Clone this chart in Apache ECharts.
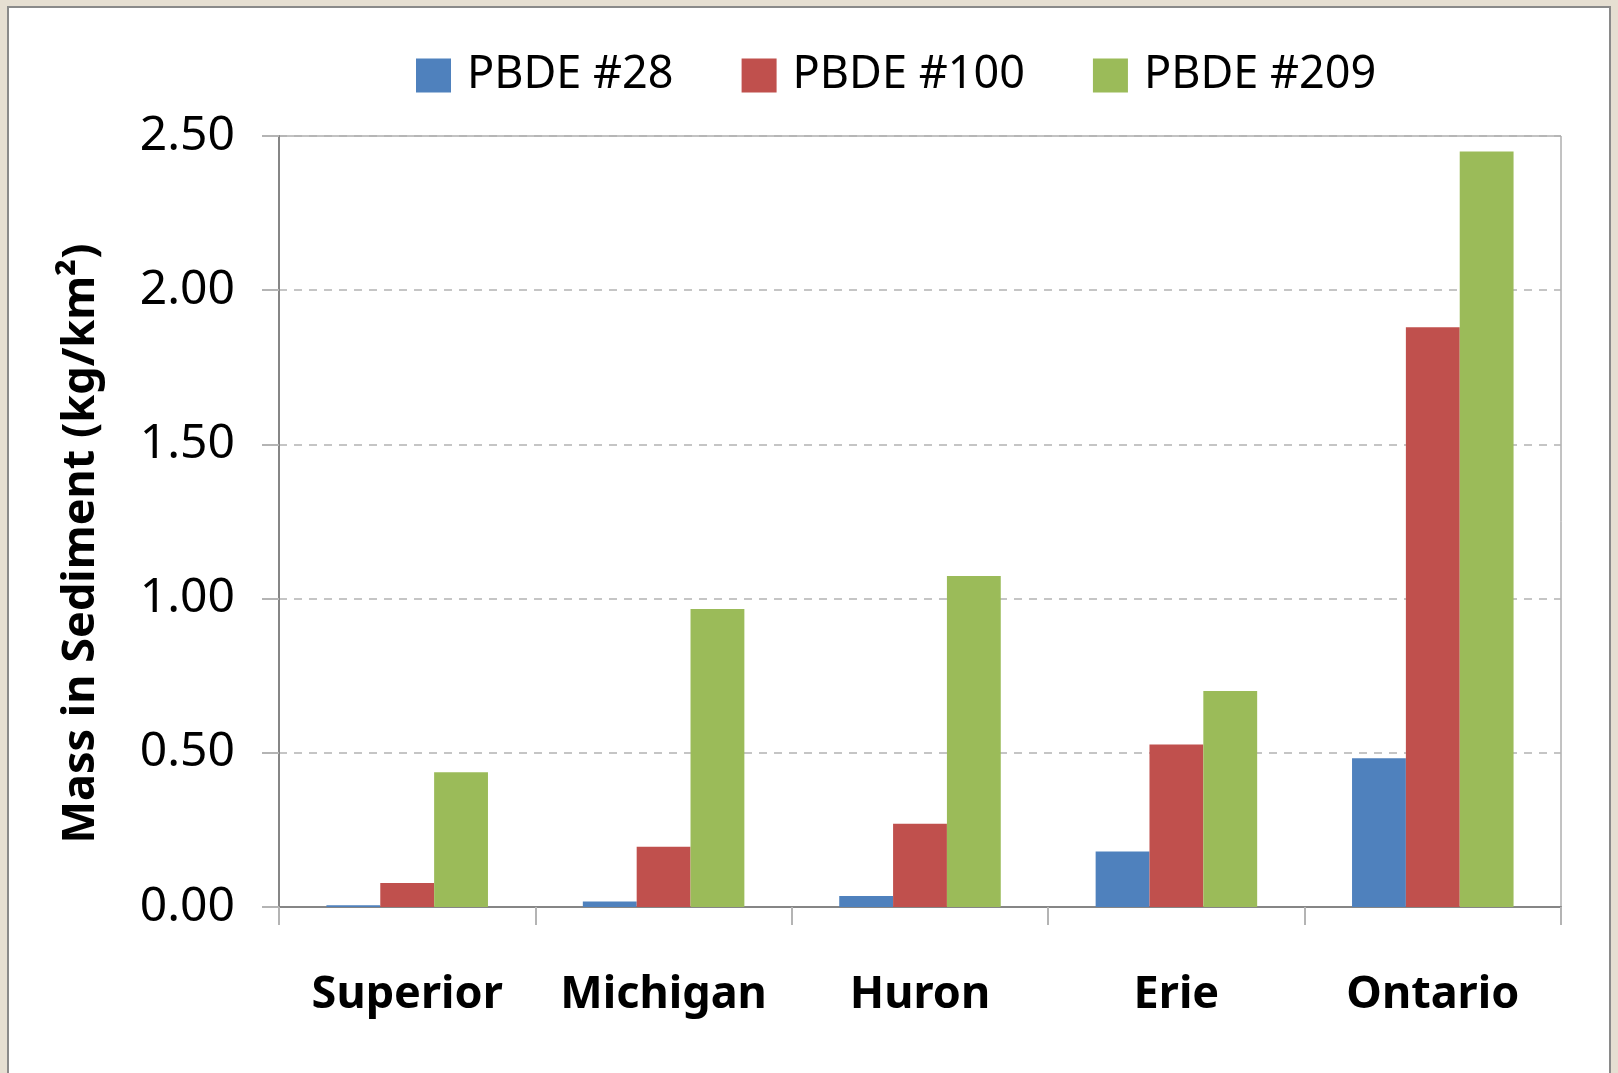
<!DOCTYPE html>
<html>
<head>
<meta charset="utf-8">
<title>PBDE mass in sediment</title>
<script src="https://cdn.jsdelivr.net/npm/echarts@6/dist/echarts.min.js"></script>
<style>
    html, body { margin: 0; padding: 0; }
    #main { width: 1618px; height: 1073px; }
</style>
</head>
<body>
<div id="main"></div>
<script>
// 数据
let lakes = ["Superior", "Michigan", "Huron", "Erie", "Ontario"];
let pbde28 = [0.006, 0.018, 0.036, 0.18, 0.482];
let pbde100 = [0.078, 0.195, 0.27, 0.527, 1.88];
let pbde209 = [0.437, 0.966, 1.073, 0.70, 2.45];
let seriesNames = ["PBDE #28", "PBDE #100", "PBDE #209"];
let seriesColors = ["#4F81BD", "#C0504D", "#9BBB59"];

let fontName = "Noto Sans";

let option = {
    backgroundColor: "#e6dfd2",
    // 白色底板
    graphic: [
        {
            type: "rect",
            z: -10,
            shape: { x: 8, y: 7, width: 1602, height: 1080 },
            style: { fill: "#ffffff", stroke: "#8a8a8a", lineWidth: 2 }
        }
    ],
    legend: {
        top: 48,
        left: 411,
        itemWidth: 35,
        itemHeight: 34,
        itemGap: 68,
        icon: "rect",
        textStyle: {
            fontFamily: fontName,
            fontSize: 45,
            color: "#000000",
            padding: [0, 0, 0, 11]
        },
        data: seriesNames
    },
    // 坐标轴区域
    grid: {
        left: 279,
        right: 57,
        top: 136,
        bottom: 166,
        show: true,
        borderColor: "#868686",
        borderWidth: 1
    },
    xAxis: {
        type: "category",
        data: lakes,
        axisLine: {
            lineStyle: { color: "#868686", width: 2 }
        },
        axisTick: {
            show: true,
            interval: 0,
            length: 18,
            lineStyle: { color: "#b4b4b4", width: 2 }
        },
        axisLabel: {
            interval: 0,
            margin: 66,
            fontFamily: fontName,
            fontSize: 45,
            fontWeight: "bold",
            color: "#000000"
        }
    },
    yAxis: {
        type: "value",
        min: 0,
        max: 2.5,
        interval: 0.5,
        name: "Mass in Sediment (kg/km²)",
        nameLocation: "middle",
        nameGap: 175,
        nameTextStyle: {
            fontFamily: fontName,
            fontSize: 45,
            fontWeight: "bold",
            color: "#000000",
            padding: [0, 44, 0, 0]
        },
        axisLine: {
            show: true,
            lineStyle: { color: "#868686", width: 2 }
        },
        axisTick: {
            show: true,
            length: 17,
            lineStyle: { color: "#b4b4b4", width: 2 }
        },
        axisLabel: {
            margin: 44,
            fontFamily: fontName,
            fontSize: 48,
            color: "#000000",
            formatter: function (v) {
                return v.toFixed(2);
            }
        },
        splitLine: {
            show: true,
            lineStyle: { color: "#b3b3b3", width: 1.5, type: [8, 7] }
        }
    },
    series: [
        {
            name: seriesNames[0],
            type: "bar",
            data: pbde28,
            barGap: "0%",
            barCategoryGap: "37%",
            itemStyle: { color: seriesColors[0] }
        },
        {
            name: seriesNames[1],
            type: "bar",
            data: pbde100,
            barGap: "0%",
            barCategoryGap: "37%",
            itemStyle: { color: seriesColors[1] }
        },
        {
            name: seriesNames[2],
            type: "bar",
            data: pbde209,
            barGap: "0%",
            barCategoryGap: "37%",
            itemStyle: { color: seriesColors[2] }
        }
    ]
};

let myChart = echarts.init(document.getElementById("main"));
myChart.setOption(option);

//图表自适应窗口的大小
window.addEventListener("resize", function () {
    myChart.resize();
});
</script>
</body>
</html>
